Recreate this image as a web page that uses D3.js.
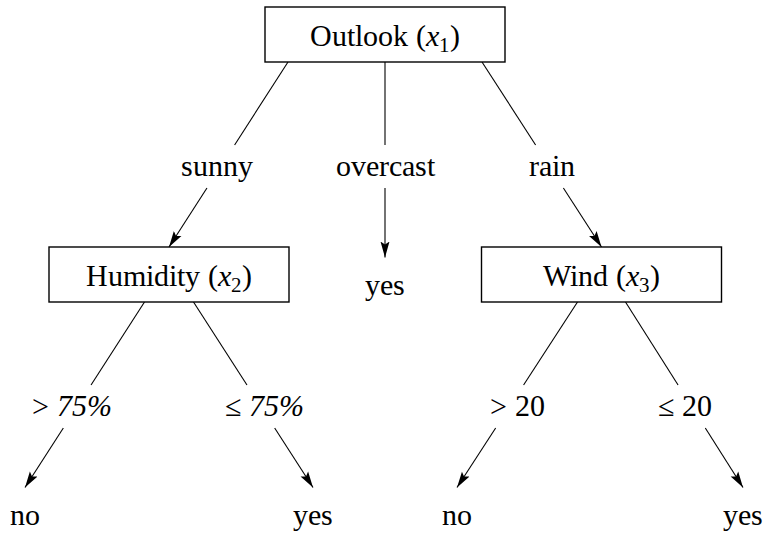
<!DOCTYPE html>
<html>
<head>
<meta charset="utf-8">
<script src="https://cdn.jsdelivr.net/npm/d3@7"></script>
<style>
  @font-face { font-family: "TreeSerif"; font-style: normal; font-weight: 400;
    src: local("Liberation Serif"), local("LiberationSerif"), local("LiberationSerif-Regular"),
         local("Times New Roman"), local("DejaVu Serif"), local("DejaVuSerif"), local("Noto Serif"); }
  @font-face { font-family: "TreeSerif"; font-style: italic; font-weight: 400;
    src: local("Liberation Serif Italic"), local("LiberationSerif-Italic"),
         local("Times New Roman Italic"), local("DejaVu Serif Italic"), local("DejaVuSerif-Italic"); }
  html, body { margin: 0; padding: 0; background: #fff; }
  svg { display: block; }
  svg text { font-family: "TreeSerif", "Liberation Serif", "Times New Roman", "DejaVu Serif", serif; }
</style>
</head>
<body>
<script>
// ---- data ----
const nodeIds = ["outlook", "humidity", "wind"];
const nodeTitles = ["Outlook", "Humidity", "Wind"];
const nodeVars = ["1", "2", "3"];
const leafIds = ["yesO", "no1", "yes1", "no2", "yes2"];
const leafLabels = ["yes", "no", "yes", "no", "yes"];
const edgeFrom = ["outlook", "outlook", "outlook", "humidity", "humidity", "wind", "wind"];
const edgeTo = ["humidity", "yesO", "wind", "no1", "yes1", "no2", "yes2"];
const edgeLabels = ["sunny", "overcast", "rain", "> 75%", "\u2264 75%", "> 20", "\u2264 20"];

// ---- layout ----
const W = 763, H = 533;
const FONT = 30;
const layout = {
  outlook:  { x: 385,   level: 0, spread: 97 },
  humidity: { x: 169,   level: 2, spread: 24.5 },
  wind:     { x: 601.5, level: 2, spread: 24 },
  yesO:     { x: 385,   level: 2 },
  no1:      { x: 25,    level: 4 },
  yes1:     { x: 313,   level: 4 },
  no2:      { x: 457,   level: 4 },
  yes2:     { x: 743,   level: 4 }
};
const levelY = d3.scaleOrdinal().domain([0, 1, 2, 3, 4]).range([34.5, 167, 274.5, 407, 514.5]);
const leafBaseline = d3.scaleOrdinal().domain([2, 4]).range([295, 525]);
const labelX = [217, 385, 552, 72, 264, 517, 685];
const boxW = 240, boxH = 55;

const svg = d3.select("body").append("svg")
  .attr("width", W).attr("height", H);

svg.append("defs").append("marker")
  .attr("id", "arrow")
  .attr("viewBox", "0 -5 16 10")
  .attr("refX", 16).attr("refY", 0)
  .attr("markerUnits", "userSpaceOnUse")
  .attr("markerWidth", 16).attr("markerHeight", 10)
  .attr("orient", "auto")
  .append("path").attr("d", "M0,-4.5L16,0L0,4.5L3,0Z").attr("fill", "#000");

function isNode(id) { return nodeIds.includes(id); }
function topY(id) {
  const p = layout[id];
  if (isNode(id)) return levelY(p.level) - boxH / 2;
  return leafBaseline(p.level) - 37.5;
}
function bottomY(id) { return levelY(layout[id].level) + boxH / 2; }

function addText(sel) {
  return sel.append("text")
    .attr("font-size", FONT)
    .attr("fill", "#000")
    .attr("text-anchor", "middle");
}

// edges
edgeFrom.forEach((from, i) => {
  const to = edgeTo[i];
  const siblings = edgeFrom.map((f, j) => f === from ? j : -1).filter(j => j >= 0);
  const half = (siblings.length - 1) / 2;
  const k = (siblings.indexOf(i) - half) / half;
  const x0 = layout[from].x + k * layout[from].spread;
  const y0 = bottomY(from);
  const x1 = layout[to].x, y1 = topY(to);
  const ly = levelY(layout[from].level + 1);
  const xAt = y => x0 + (x1 - x0) * (y - y0) / (y1 - y0);
  const yA = ly - 22, yB = ly + 21;
  svg.append("line")
    .attr("x1", x0).attr("y1", y0).attr("x2", xAt(yA)).attr("y2", yA)
    .attr("stroke", "#000").attr("stroke-width", 1.1);
  svg.append("line")
    .attr("x1", xAt(yB)).attr("y1", yB).attr("x2", x1).attr("y2", y1)
    .attr("stroke", "#000").attr("stroke-width", 1.1)
    .attr("marker-end", "url(#arrow)");
  const t = addText(svg).attr("x", labelX[i]).attr("y", ly + 8.5);
  const lab = edgeLabels[i];
  if (lab.includes("%")) {
    const parts = lab.split(" ");
    t.append("tspan").text(parts[0] + " ");
    t.append("tspan").attr("font-style", "italic").text(parts[1]);
  } else {
    t.text(lab);
  }
});

// decision nodes
nodeIds.forEach((id, i) => {
  const p = layout[id];
  const cy = levelY(p.level);
  svg.append("rect")
    .attr("x", p.x - boxW / 2).attr("y", cy - boxH / 2)
    .attr("width", boxW).attr("height", boxH)
    .attr("fill", "#fff").attr("stroke", "#000").attr("stroke-width", 1.4);
  const t = addText(svg).attr("x", p.x).attr("y", cy + 11);
  t.append("tspan").text(nodeTitles[i] + " (");
  t.append("tspan").attr("font-style", "italic").text("x");
  t.append("tspan").attr("font-size", 21).attr("dy", 6).text(nodeVars[i]);
  t.append("tspan").attr("dy", -6).text(")");
});

// leaves
leafIds.forEach((id, i) => {
  const p = layout[id];
  addText(svg).attr("x", p.x).attr("y", leafBaseline(p.level)).text(leafLabels[i]);
});
</script>
</body>
</html>
